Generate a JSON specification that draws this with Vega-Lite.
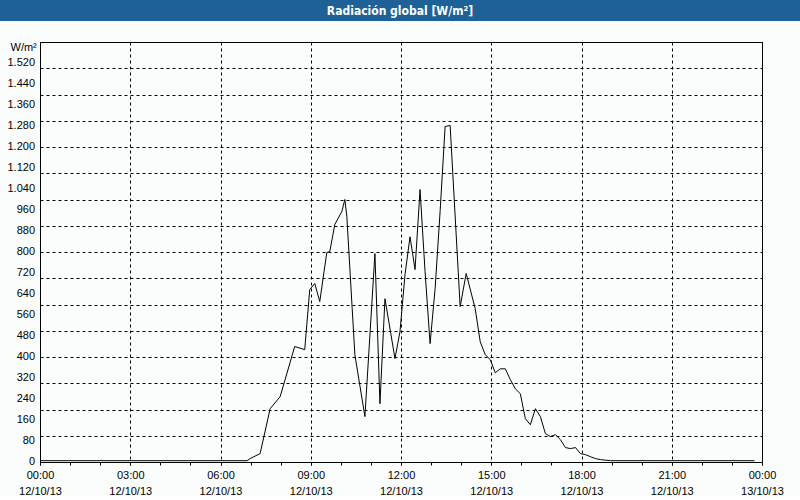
{
  "$schema": "https://vega.github.io/schema/vega-lite/v6.json",
  "background": "#fbfdfc",
  "padding": 0,
  "spacing": 20,
  "config": {"font": "Liberation Sans"},
  "datasets": {
    "rad": [
      {"t": "2013-10-12T00:00:00", "v": 5},
      {"t": "2013-10-12T06:53:00", "v": 5},
      {"t": "2013-10-12T06:59:00", "v": 13},
      {"t": "2013-10-12T07:19:00", "v": 32},
      {"t": "2013-10-12T07:39:00", "v": 203},
      {"t": "2013-10-12T07:59:00", "v": 249},
      {"t": "2013-10-12T08:28:00", "v": 440},
      {"t": "2013-10-12T08:48:00", "v": 428},
      {"t": "2013-10-12T08:58:00", "v": 657},
      {"t": "2013-10-12T09:08:00", "v": 680},
      {"t": "2013-10-12T09:18:00", "v": 611},
      {"t": "2013-10-12T09:32:00", "v": 798},
      {"t": "2013-10-12T09:38:00", "v": 802},
      {"t": "2013-10-12T09:48:00", "v": 905},
      {"t": "2013-10-12T10:02:00", "v": 954},
      {"t": "2013-10-12T10:08:00", "v": 1000},
      {"t": "2013-10-12T10:12:00", "v": 935},
      {"t": "2013-10-12T10:28:00", "v": 409},
      {"t": "2013-10-12T10:48:00", "v": 173},
      {"t": "2013-10-12T11:08:00", "v": 794},
      {"t": "2013-10-12T11:18:00", "v": 222},
      {"t": "2013-10-12T11:28:00", "v": 622},
      {"t": "2013-10-12T11:48:00", "v": 394},
      {"t": "2013-10-12T11:58:00", "v": 497},
      {"t": "2013-10-12T12:08:00", "v": 714},
      {"t": "2013-10-12T12:18:00", "v": 858},
      {"t": "2013-10-12T12:28:00", "v": 733},
      {"t": "2013-10-12T12:38:00", "v": 1038},
      {"t": "2013-10-12T12:48:00", "v": 725},
      {"t": "2013-10-12T12:58:00", "v": 451},
      {"t": "2013-10-12T13:08:00", "v": 660},
      {"t": "2013-10-12T13:18:00", "v": 954},
      {"t": "2013-10-12T13:28:00", "v": 1278},
      {"t": "2013-10-12T13:38:00", "v": 1282},
      {"t": "2013-10-12T13:58:00", "v": 592},
      {"t": "2013-10-12T14:10:00", "v": 718},
      {"t": "2013-10-12T14:28:00", "v": 584},
      {"t": "2013-10-12T14:38:00", "v": 458},
      {"t": "2013-10-12T14:48:00", "v": 409},
      {"t": "2013-10-12T14:58:00", "v": 390},
      {"t": "2013-10-12T15:08:00", "v": 340},
      {"t": "2013-10-12T15:18:00", "v": 355},
      {"t": "2013-10-12T15:28:00", "v": 355},
      {"t": "2013-10-12T15:38:00", "v": 314},
      {"t": "2013-10-12T15:48:00", "v": 279},
      {"t": "2013-10-12T15:58:00", "v": 260},
      {"t": "2013-10-12T16:08:00", "v": 165},
      {"t": "2013-10-12T16:18:00", "v": 142},
      {"t": "2013-10-12T16:28:00", "v": 203},
      {"t": "2013-10-12T16:38:00", "v": 173},
      {"t": "2013-10-12T16:48:00", "v": 108},
      {"t": "2013-10-12T16:58:00", "v": 97},
      {"t": "2013-10-12T17:08:00", "v": 104},
      {"t": "2013-10-12T17:18:00", "v": 85},
      {"t": "2013-10-12T17:28:00", "v": 55},
      {"t": "2013-10-12T17:38:00", "v": 51},
      {"t": "2013-10-12T17:48:00", "v": 55},
      {"t": "2013-10-12T17:58:00", "v": 32},
      {"t": "2013-10-12T18:08:00", "v": 28},
      {"t": "2013-10-12T18:18:00", "v": 20},
      {"t": "2013-10-12T18:28:00", "v": 13},
      {"t": "2013-10-12T18:38:00", "v": 9},
      {"t": "2013-10-12T18:58:00", "v": 5},
      {"t": "2013-10-12T23:45:00", "v": 5}
    ],
    "ylabels": [
      {"v": 0, "lab": "0"}, {"v": 80, "lab": "80"}, {"v": 160, "lab": "160"}, {"v": 240, "lab": "240"},
      {"v": 320, "lab": "320"}, {"v": 400, "lab": "400"}, {"v": 480, "lab": "480"}, {"v": 560, "lab": "560"},
      {"v": 640, "lab": "640"}, {"v": 720, "lab": "720"}, {"v": 800, "lab": "800"}, {"v": 880, "lab": "880"},
      {"v": 960, "lab": "960"}, {"v": 1040, "lab": "1.040"}, {"v": 1120, "lab": "1.120"}, {"v": 1200, "lab": "1.200"},
      {"v": 1280, "lab": "1.280"}, {"v": 1360, "lab": "1.360"}, {"v": 1440, "lab": "1.440"}, {"v": 1520, "lab": "1.520"}
    ]
  },
  "vconcat": [
    {
      "width": 800,
      "height": 21,
      "view": {"fill": "#1d6196", "stroke": null},
      "data": {"values": [{"t": "Radiación global [W/m²]"}]},
      "mark": {"type": "text", "color": "white", "fontWeight": "bold", "fontSize": 12, "font": "DejaVu Sans Condensed", "baseline": "middle", "align": "center"},
      "encoding": {"text": {"field": "t"}}
    },
    {
      "width": 800,
      "height": 420,
      "view": {"stroke": null},
      "resolve": {"axis": {"x": "independent", "y": "independent"}},
      "layer": [
        {
          "data": {"name": "rad"},
          "mark": {"type": "line", "color": "black", "strokeWidth": 1},
          "encoding": {
            "x": {
              "field": "t", "type": "temporal",
              "scale": {"domain": [{"year": 2013, "month": 10, "date": 12, "hours": 0}, {"year": 2013, "month": 10, "date": 13, "hours": 0}], "nice": false, "range": [40, 762]},
              "axis": {
                "orient": "bottom",
                "title": null,
                "domain": true,
                "domainColor": "black",
                "tickCount": 8,
                "tickSize": 3,
                "tickColor": "black",
                "format": "%H:%M",
                "labelFlush": false,
                "labelOverlap": false,
                "labelPadding": 4,
                "labelFontSize": 11,
                "labelColor": "black",
                "grid": true,
                "gridColor": "black",
                "gridDash": [3, 3]
              }
            },
            "y": {
              "field": "v", "type": "quantitative",
              "scale": {"domain": [0, 1600], "nice": false},
              "axis": {
                "orient": "left",
                "offset": -40,
                "title": "W/m²",
                "titleAngle": 0,
                "titleAlign": "left",
                "titleBaseline": "middle",
                "titleX": -30,
                "titleY": 5,
                "titleFontWeight": "normal",
                "titleFontSize": 11,
                "titleColor": "black",
                "domain": true,
                "domainColor": "black",
                "ticks": false,
                "labels": false,
                "tickCount": 20,
                "grid": true,
                "gridColor": "black",
                "gridDash": [3, 3]
              }
            }
          }
        },
        {
          "data": {"name": "rad"},
          "mark": {"type": "line", "strokeOpacity": 0},
          "encoding": {
            "x": {
              "field": "t", "type": "temporal",
              "axis": {"orient": "top", "title": null, "domain": true, "domainColor": "black", "ticks": false, "labels": false, "grid": false}
            },
            "y": {
              "field": "v", "type": "quantitative",
              "axis": {"orient": "right", "offset": -38, "title": null, "domain": true, "domainColor": "black", "ticks": false, "labels": false, "grid": false}
            }
          }
        },
        {
          "data": {"name": "rad"},
          "mark": {"type": "line", "strokeOpacity": 0},
          "encoding": {
            "x": {
              "field": "t", "type": "temporal",
              "axis": {"orient": "bottom", "title": null, "domain": false, "ticks": true, "tickSize": 3, "tickColor": "black", "tickCount": 24, "labels": false, "grid": false}
            },
            "y": {"field": "v", "type": "quantitative", "axis": null}
          }
        },
        {
          "data": {"name": "rad"},
          "mark": {"type": "line", "strokeOpacity": 0},
          "encoding": {
            "x": {
              "field": "t", "type": "temporal",
              "axis": {"orient": "bottom", "title": null, "domain": false, "ticks": false, "tickCount": 8, "format": "%d/%m/%y", "labelFlush": false, "labelOverlap": false, "labelPadding": 23, "labelFontSize": 11, "labelColor": "black", "grid": false}
            },
            "y": {"field": "v", "type": "quantitative", "axis": null}
          }
        },
        {
          "data": {"name": "ylabels"},
          "mark": {"type": "text", "align": "right", "baseline": "middle", "dx": -5, "fontSize": 11, "color": "black"},
          "encoding": {
            "x": {"datum": {"year": 2013, "month": 10, "date": 12, "hours": 0}, "type": "temporal", "axis": null},
            "y": {"field": "v", "type": "quantitative", "axis": null},
            "text": {"field": "lab"}
          }
        }
      ]
    }
  ]
}
